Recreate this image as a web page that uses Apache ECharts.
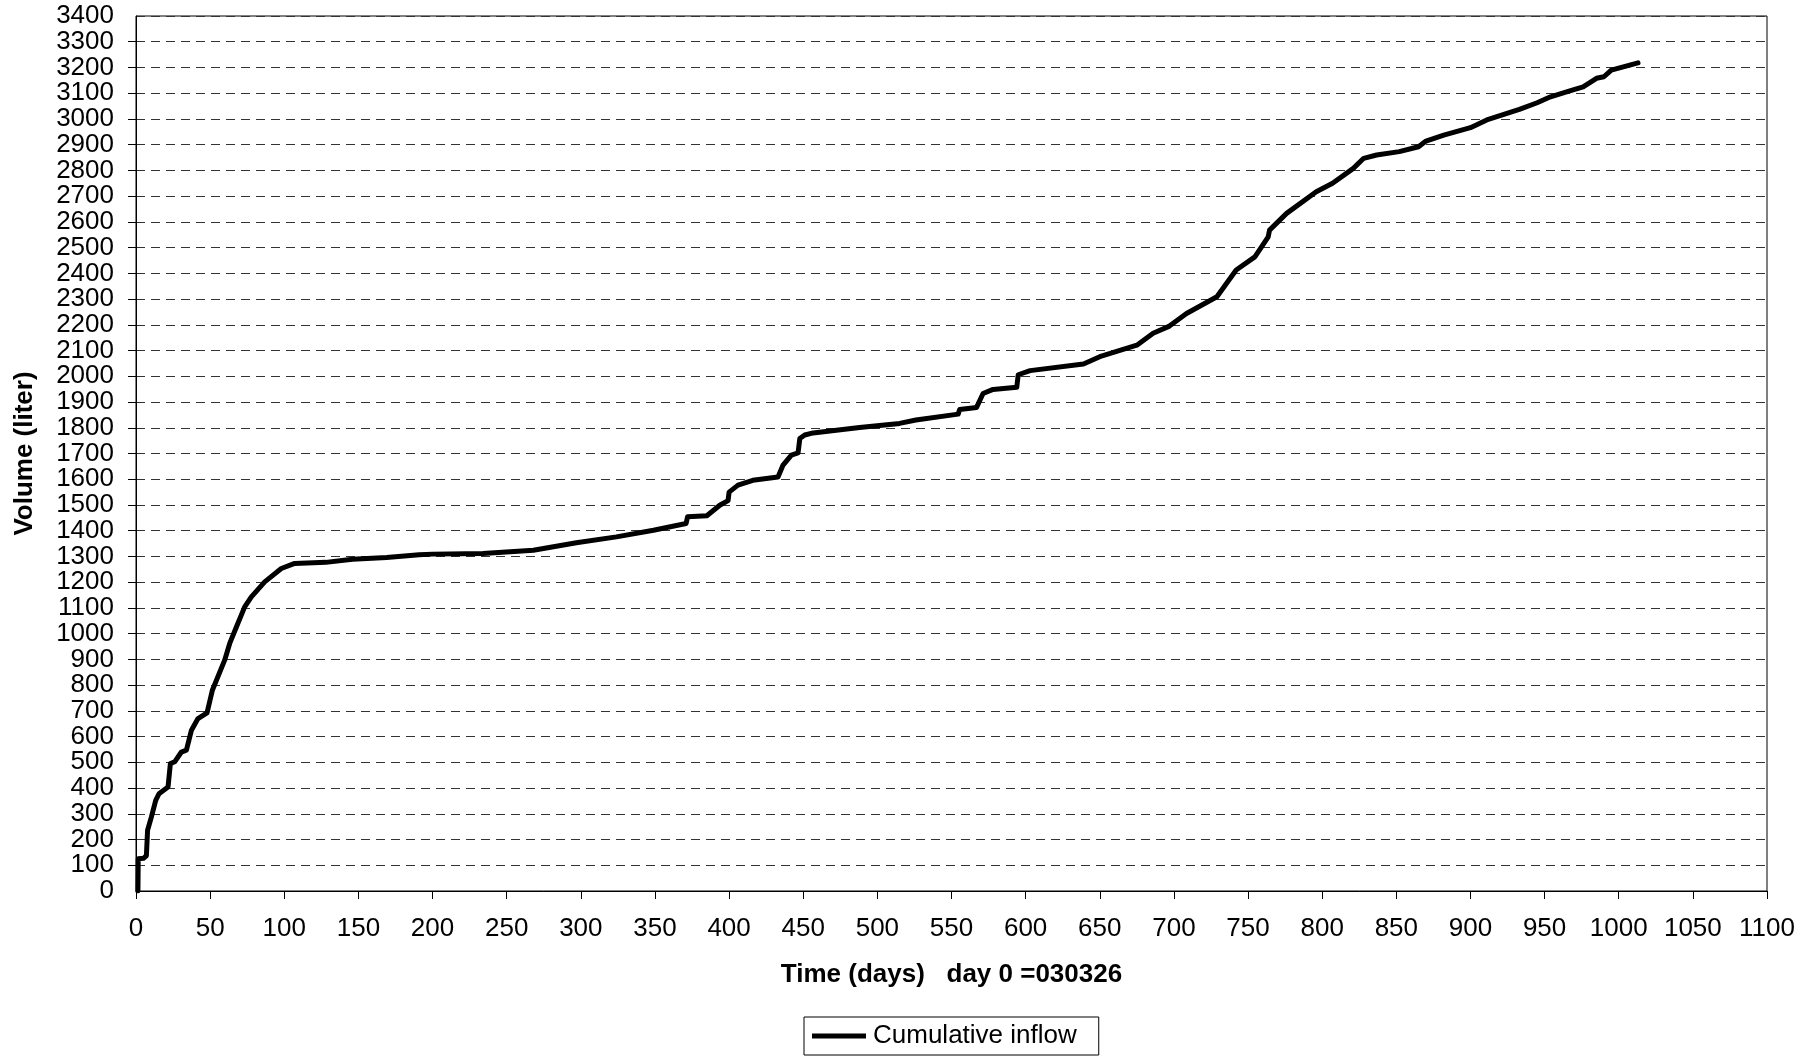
<!DOCTYPE html>
<html>
<head>
<meta charset="utf-8">
<script src="https://cdn.jsdelivr.net/npm/echarts@6/dist/echarts.min.js"></script>
<style>
html,body{margin:0;padding:0;background:#fff;}
#c{width:1820px;height:1057px;}
</style>
</head>
<body>
<div id="c"></div>
<script>
// Data
var days = [1.3,1.5,5,7,7.8,10.4,13.3,15.5,21.6,23.2,26.1,30.6,34,37.4,41.8,47.9,51.5,59.8,63.2,67.7,73.3,77.8,86.8,98,107,128,146,169,191,200,234,268,297,324,349,371,372,385,393.7,399.3,400,406,416,433,436.4,442,446.5,447.7,451,456.7,488,515,526,554.5,555.5,566.9,571.3,578,594,595,603,639,650,675,686,697,708.5,729,742,754.6,763.6,764.5,776,796,807,821,828,836.7,852,865,870,882,900,911,933,945,954,967,976,985,990,995,1013];
var volume = [0,125,127,137,236,288,352,378,404,495,502,540,547,625,670,692,780,897,962,1026,1104,1143,1201,1253,1273,1277,1289,1296,1307,1309,1311,1324,1353,1376,1402,1428,1454,1458,1499,1517,1550,1577,1596,1609,1655,1694,1702,1758,1772,1780,1801,1817,1830,1853,1871,1879,1933,1949,1957,2006,2022,2048,2076,2121,2167,2195,2244,2309,2413,2464,2542,2568,2633,2717,2750,2808,2847,2860,2873,2892,2914,2937,2966,2996,3037,3063,3086,3109,3125,3158,3164,3190,3218];
var seriesName = 'Cumulative inflow';
var xTitle = 'Time (days)   day 0 =030326';
var yTitle = 'Volume (liter)';
var yMin = 0, yMax = 3400, yStep = 100;
var xMin = 0, xMax = 1100, xStep = 50;

var pts = days.map(function(d,i){return [d, volume[i]];});
var FONT = '"Liberation Sans", Arial, sans-serif';
function plain(v){ return String(v); }
var labelStyle = {fontFamily:FONT, fontSize:26, color:'#000', margin:22, formatter:plain, hideOverlap:false};

var chart = echarts.init(document.getElementById('c'), null, {renderer:'canvas'});
chart.setOption({
  animation:false,
  backgroundColor:'#fff',
  grid:{left:136, top:16, right:53, bottom:166, show:true, borderColor:'#000', borderWidth:1, backgroundColor:'transparent'},
  legend:{
    data:[{name:seriesName, icon:'rect'}],
    left:804, top:1017,
    itemWidth:54, itemHeight:5, itemGap:0,
    padding:[6,22,6,8],
    borderColor:'#000', borderWidth:1, borderRadius:0,
    textStyle:{fontFamily:FONT, fontSize:26, color:'#000', padding:[0,0,0,2]}
  },
  xAxis:{
    type:'value', min:xMin, max:xMax, interval:xStep,
    name:xTitle, nameLocation:'middle', nameGap:71,
    nameTextStyle:{fontFamily:FONT, fontSize:26, fontWeight:'bold', color:'#000'},
    axisLine:{show:true, onZero:false, lineStyle:{color:'#000', width:1}},
    axisTick:{show:true, inside:false, length:8, lineStyle:{color:'#000'}},
    axisLabel:{fontFamily:FONT, fontSize:26, color:'#000', margin:25, formatter:plain, showMinLabel:true, showMaxLabel:true, hideOverlap:false},
    splitLine:{show:false}
  },
  yAxis:[{
    type:'value', min:yMin, max:yMax, interval:yStep, position:'left',
    name:yTitle, nameLocation:'middle', nameGap:98, nameRotate:90,
    nameTextStyle:{fontFamily:FONT, fontSize:26, fontWeight:'bold', color:'#000'},
    axisLine:{show:true, lineStyle:{color:'#000', width:1}},
    axisTick:{show:true, inside:false, length:8, lineStyle:{color:'#000'}},
    axisLabel:Object.assign({showMinLabel:false, showMaxLabel:false}, labelStyle),
    splitLine:{show:true, lineStyle:{color:'#333', width:1, type:[9,6]}}
  },{
    type:'value', min:yMin, max:yMax, interval:yMax - yMin, position:'left', offset:0,
    axisLine:{show:false}, axisTick:{show:false}, splitLine:{show:false},
    axisLabel:Object.assign({showMinLabel:true, showMaxLabel:true}, labelStyle)
  }],
  series:[{
    name:seriesName, type:'line', data:pts, yAxisIndex:0,
    showSymbol:false, symbol:'none', smooth:false,
    itemStyle:{color:'#000'},
    lineStyle:{color:'#000', width:5, cap:'round', join:'round'}
  }]
});
</script>
</body>
</html>
